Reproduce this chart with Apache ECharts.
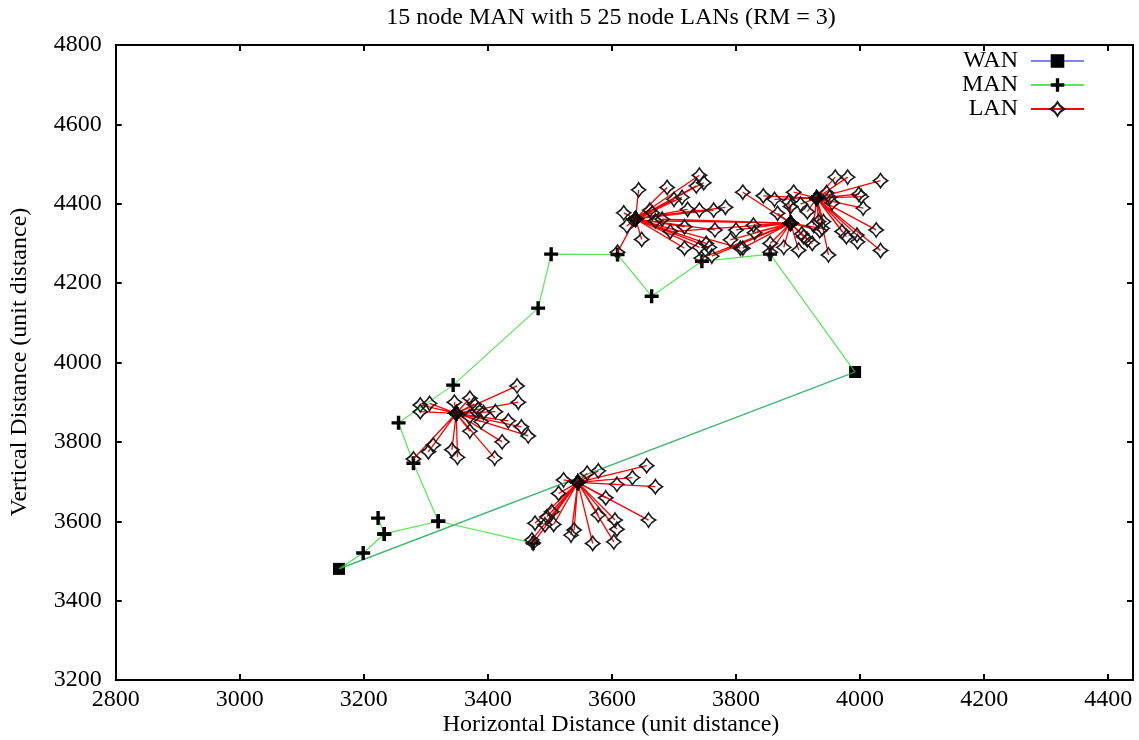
<!DOCTYPE html>
<html>
<head>
<meta charset="utf-8">
<title>15 node MAN with 5 25 node LANs (RM = 3)</title>
<script src="https://cdn.jsdelivr.net/npm/echarts@6/dist/echarts.min.js"></script>
<style>
  html, body { margin: 0; padding: 0; background: #fff; }
  #chart { width: 1139px; height: 740px; }
</style>
</head>
<body>
<div id="chart"></div>
<script>
// ---- Topology data (unit distance) ----
const xRange = [2800, 4440];
const yRange = [3200, 4800];
const tickStep = 200;

// WAN gateways
const wanNodes = [[3160, 3480], [3992, 3976]];

// MAN routers
const manNodes = [
  [3199, 3520], [3233, 3568], [3223, 3608], [3320, 3600], [3473, 3545],
  [3280, 3746], [3256, 3848], [3344, 3943], [3481, 4137], [3502, 4273],
  [3609, 4272], [3664, 4167], [3745, 4255], [3855, 4273]
];

// MAN links as polylines; 'W0' / 'W1' refer to the WAN gateways
const manRoutes = [
  ['W0', 0, 1, 2],
  [1, 3, 4],
  [3, 5, 6, 7, 8, 9, 10, 11, 12, 13, 'W1', 'W0']
];
const wanRoutes = [['W0', 'W1']];

// LAN stars: hub + leaves
const lanHubs = [[3349, 3872], [3545, 3698], [3638, 4362], [3888, 4351], [3930, 4414]];

const lan1Leaves = [[3447,3941],[3449,3900],[3346,3900],[3371,3910],[3378,3895],[3384,3882],[3393,3874],[3412,3876],
  [3389,3851],[3370,3863],[3433,3853],[3454,3838],[3465,3815],[3371,3827],[3423,3800],[3411,3759],
  [3342,3780],[3351,3761],[3291,3893],[3306,3897],[3291,3876],[3312,3792],[3304,3775],[3280,3757]];

const lan2Leaves = [[3656,3740],[3633,3710],[3670,3687],[3608,3693],[3578,3727],[3560,3721],[3522,3704],[3514,3670],
  [3590,3659],[3659,3603],[3578,3616],[3605,3603],[3608,3580],[3603,3548],[3569,3544],[3539,3578],
  [3534,3565],[3503,3624],[3495,3611],[3476,3595],[3492,3591],[3506,3592],[3471,3553],[3473,3545]];

const lan3Leaves = [[3643,4435],[3689,4441],[3619,4377],[3624,4344],[3648,4310],[3661,4384],[3665,4377],[3700,4411],
  [3713,4416],[3741,4472],[3736,4445],[3748,4453],[3722,4386],[3741,4384],[3764,4384],[3783,4391],
  [3717,4342],[3717,4288],[3741,4290],[3752,4300],[3757,4290],[3609,4278],[3766,4334],[3807,4288]];

const lan4Leaves = [[3811,4429],[3681,4361],[3670,4357],[3694,4330],[3885,4405],[3888,4393],[3867,4376],[3828,4346],
  [3830,4327],[3811,4288],[3855,4300],[3877,4290],[3901,4283],[3800,4334],[3791,4309],[3761,4268],
  [3744,4263],[3855,4278],[3906,4324],[3909,4317],[3923,4300],[3915,4309],[3935,4332],[3939,4338]];

const lan5Leaves = [[3960,4467],[3980,4467],[4033,4458],[3998,4424],[4002,4418],[4005,4389],[3951,4416],[3946,4428],
  [3971,4330],[3978,4317],[3995,4321],[3996,4304],[4026,4334],[4033,4282],[3949,4271],[3904,4399],
  [3915,4380],[3893,4429],[3862,4411],[3844,4420],[3933,4355],[3941,4355],[3925,4346],[3955,4402]];

const lanLeaves = [lan1Leaves, lan2Leaves, lan3Leaves, lan4Leaves, lan5Leaves];

// ---- Symbols ----
const CROSS = 'path://M5.3,0H8.7V5.3H14V8.7H8.7V14H5.3V8.7H0V5.3H5.3Z';
const STAR4 = 'path://M0,-10Q3.4,-3.4,10,0Q3.4,3.4,0,10Q-3.4,3.4,-10,0Q-3.4,-3.4,0,-10Z';
const GAP = { value: ['-', '-'], symbol: 'none' };
const FONT = '"Liberation Serif", "DejaVu Serif", serif';
const FS = 24;

function nodeAt(ref) {
  return typeof ref === 'string' ? wanNodes[+ref.slice(1)] : manNodes[ref];
}

function routeData(routes, markWan) {
  const out = [];
  routes.forEach(function (route) {
    route.forEach(function (ref) {
      const isWan = typeof ref === 'string';
      out.push({ value: nodeAt(ref).slice(), symbol: isWan && !markWan ? 'none' : undefined });
    });
    out.push(GAP);
  });
  return out;
}

function lanData() {
  const out = [];
  lanHubs.forEach(function (hub, i) {
    lanLeaves[i].forEach(function (leaf) {
      out.push({ value: hub.slice() });
      out.push({ value: leaf.slice() });
      out.push(GAP);
    });
  });
  return out;
}

const tickLabel = { fontFamily: FONT, fontSize: FS, color: '#000' };

function axisCommon(range, showLabels, margin) {
  return {
    type: 'value',
    min: range[0],
    max: range[1],
    interval: tickStep,
    axisLine: { show: true, onZero: false, lineStyle: { color: '#000', width: 2 } },
    axisTick: { show: true, inside: true, length: 6, lineStyle: { color: '#000', width: 2 } },
    splitLine: { show: false },
    axisLabel: Object.assign({
      show: showLabels,
      margin: margin,
      showMaxLabel: range[1] % tickStep === 0,
      formatter: function (v) { return v % tickStep === 0 ? String(v) : ''; }
    }, tickLabel)
  };
}

const chart = echarts.init(document.getElementById('chart'), null, { renderer: 'canvas' });

chart.setOption({
  animation: false,
  backgroundColor: '#fff',
  grid: { left: 115.7, right: 6, top: 45, bottom: 60, containLabel: false },
  xAxis: [
    Object.assign(axisCommon(xRange, true, 8), { position: 'bottom' }),
    Object.assign(axisCommon(xRange, false, 8), { position: 'top' })
  ],
  yAxis: [
    Object.assign(axisCommon(yRange, true, 14), { position: 'left' }),
    Object.assign(axisCommon(yRange, false, 14), { position: 'right' })
  ],
  legend: {
    data: ['WAN', 'MAN', 'LAN'],
    orient: 'vertical',
    right: 54,
    top: 49,
    padding: 0,
    align: 'right',
    itemWidth: 53,
    itemHeight: 17,
    itemGap: 0,
    selectedMode: false,
    textStyle: { fontFamily: FONT, fontSize: FS, color: '#000', padding: [0, 8, 0, 0] }
  },
  graphic: [
    { type: 'text', x: 611, y: 18, style: { text: '15 node MAN with 5 25 node LANs (RM = 3)', font: FS + 'px ' + FONT, fill: '#000', textAlign: 'center', textVerticalAlign: 'middle' } },
    { type: 'text', x: 611, y: 725, style: { text: 'Horizontal Distance (unit distance)', font: FS + 'px ' + FONT, fill: '#000', textAlign: 'center', textVerticalAlign: 'middle' } },
    { type: 'text', x: 20, y: 362, rotation: Math.PI / 2, style: { text: 'Vertical Distance (unit distance)', font: FS + 'px ' + FONT, fill: '#000', textAlign: 'center', textVerticalAlign: 'middle' } }
  ],
  series: [
    {
      name: 'WAN',
      type: 'line',
      data: routeData(wanRoutes, true),
      symbol: 'rect',
      symbolSize: 12,
      showSymbol: true,
      connectNulls: false,
      itemStyle: { color: '#000' },
      lineStyle: { color: '#8080ff', width: 1.2 },
      emphasis: { disabled: true },
      z: 2
    },
    {
      name: 'MAN',
      type: 'line',
      data: routeData(manRoutes, false),
      symbol: CROSS,
      symbolSize: 14,
      showSymbol: true,
      connectNulls: false,
      itemStyle: { color: '#000' },
      lineStyle: { color: '#22dd22', width: 1.2, opacity: 0.75 },
      emphasis: { disabled: true },
      z: 3
    },
    {
      name: 'LAN',
      type: 'line',
      data: lanData(),
      symbol: STAR4,
      symbolSize: 14,
      showSymbol: true,
      connectNulls: false,
      itemStyle: { color: 'rgba(255,255,255,0)', borderColor: '#1a1a1a', borderWidth: 1.6 },
      lineStyle: { color: '#ff0000', width: 1.3 },
      emphasis: { disabled: true },
      z: 4
    },
    {
      // LAN hubs, where every spoke's marker stacks up
      type: 'scatter',
      data: lanHubs.map(function (h) { return h.slice(); }),
      symbol: STAR4,
      symbolSize: 14,
      itemStyle: { color: '#000', borderColor: '#000', borderWidth: 1 },
      emphasis: { disabled: true },
      silent: true,
      z: 5
    }
  ]
});
</script>
</body>
</html>
